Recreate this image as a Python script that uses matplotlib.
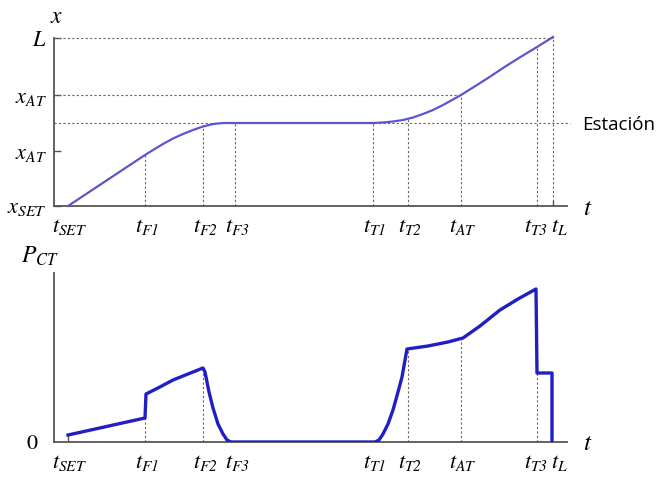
import matplotlib
matplotlib.use("Agg")
import matplotlib.pyplot as plt

# italic everywhere inside math (so subscript digits lean too)
plt.rcParams['mathtext.fontset'] = 'custom'
plt.rcParams['mathtext.rm'] = 'STIXGeneral:italic'
plt.rcParams['mathtext.it'] = 'STIXGeneral:italic'
plt.rcParams['mathtext.bf'] = 'STIXGeneral:bold'

# time marks (t_SET = 0)
t_names = [r'$t_{SET}$', r'$t_{F1}$', r'$t_{F2}$', r'$t_{F3}$',
           r'$t_{T1}$', r'$t_{T2}$', r'$t_{AT}$', r'$t_{T3}$', r'$t_{L}$']
t_marks = [0, 77, 135, 167, 305, 340, 393, 469, 485]
t_shift = [2, 2, 2, 2, 2, 2, 2, -1, 6]   # label nudges, px

# position levels
x_names = [r'$x_{SET}$', r'$x_{AT}$', r'$x_{AT}$', r'$L$']
x_levels = [0, 55, 111, 168]
x_station = 83

# position curve x(t)
pos_t = [0, 77, 85, 95, 105, 115, 125, 135, 145, 155, 167,
         305, 315, 325, 335, 345, 355, 365, 375, 385, 393, 405, 420, 435, 450, 469, 485]
pos_x = [0, 51, 56, 62, 67.5, 72, 76, 79.5, 82, 83, 83,
         83, 83.5, 84.5, 86, 88.5, 92, 96, 101, 106.5, 111, 118.5, 128, 138, 147.5, 159, 169]

# power curve P_CT(t)
pow_t = [0, 77, 78, 90, 105, 120, 130, 135, 137, 141, 145, 150, 155, 159, 163,
         307, 311, 315, 320, 325, 330, 334, 339, 360, 380, 395, 412, 432, 450, 468,
         469, 484, 484]
pow_p = [7, 24, 48, 54, 62, 68, 72, 74, 70, 50, 34, 18, 8, 2, 0,
         0, 2, 8, 18, 32, 50, 65, 93, 96, 100, 104, 116, 132, 143, 153,
         69, 69, 0]

# where the dotted guides meet the power curve
pow_guides_t = [77, 135, 340, 393, 469]
pow_guides_p = [24, 74, 93, 103, 69]

W, H = 659, 479
fig = plt.figure(figsize=(W / 100, H / 100), dpi=100)

axis_col = '#555555'
guide = dict(color='#666666', lw=0.8, ls=(0, (2, 2)))
lab_font = 16


def frame(ax, ytop):
    for s in ['top', 'right']:
        ax.spines[s].set_visible(False)
    for s in ['left', 'bottom']:
        ax.spines[s].set_color(axis_col)
        ax.spines[s].set_linewidth(1.3)
    ax.set_xlim(-14, 499)
    ax.set_ylim(0, ytop)
    ax.set_xticks([])
    for tm, name, dx in zip(t_marks, t_names, t_shift):
        ax.annotate(name, (tm, 0), xytext=(dx * 0.72, -8), textcoords='offset points',
                    ha='center', va='top', fontsize=lab_font, annotation_clip=False)
    ax.patch.set_alpha(0)


# top: position
ax1 = fig.add_axes([54 / W, 1 - 206 / H, 513 / W, 168 / H])
frame(ax1, 168)
ax1.set_yticks(x_levels)
ax1.set_yticklabels(x_names, fontsize=lab_font)
ax1.tick_params(axis='y', direction='in', length=5, width=1, color=axis_col, pad=5)

ax1.plot([-14, t_marks[-1]], [x_levels[3]] * 2, clip_on=False, **guide)
ax1.plot([-14, t_marks[6]], [x_levels[2]] * 2, **guide)
ax1.plot([-14, 502], [x_station] * 2, clip_on=False, **guide)
for tm in t_marks[1:-1]:
    ym = None
    for i in range(len(pos_t) - 1):
        if pos_t[i] <= tm <= pos_t[i + 1]:
            f = (tm - pos_t[i]) / (pos_t[i + 1] - pos_t[i])
            ym = pos_x[i] + f * (pos_x[i + 1] - pos_x[i])
            break
    ax1.plot([tm, tm], [0, ym], **guide)
ax1.plot([t_marks[-1]] * 2, [0, x_levels[3]], clip_on=False, **guide)
ax1.plot([t_marks[-1]] * 2, [0, 5], color=axis_col, lw=1)
ax1.plot(pos_t, pos_x, color='#5b56cf', lw=1.6, clip_on=False, zorder=5)

fig.text(57 / W, 1 - 16 / H, r'$x$', fontsize=lab_font + 1, ha='center', va='center')
fig.text(588 / W, 1 - 208 / H, r'$t$', fontsize=lab_font + 2, ha='center', va='center')
fig.text(582 / W, 1 - 125 / H, 'Estación', fontsize=13.5, family='Open Sans',
         ha='left', va='center')

# bottom: power
ax2 = fig.add_axes([54 / W, 1 - 442 / H, 513 / W, 169 / H])
frame(ax2, 169)
ax2.set_yticks([0])
ax2.set_yticklabels(['0'], fontsize=lab_font, family='STIXGeneral')
ax2.tick_params(axis='y', length=0, pad=12)

for tm, pm in zip(pow_guides_t, pow_guides_p):
    ax2.plot([tm, tm], [0, pm], **guide)
ax2.plot([0, 0], [0, pow_p[0]], color=axis_col, lw=1)
ax2.plot(pow_t, pow_p, color='#1f1fc4', lw=2.4, zorder=5, solid_joinstyle='round')

fig.text(40 / W, 1 - 256 / H, r'$P_{CT}$', fontsize=lab_font + 1, ha='center', va='center')
fig.text(588 / W, 1 - 443 / H, r'$t$', fontsize=lab_font + 2, ha='center', va='center')

fig.savefig('out.png', dpi=100)
